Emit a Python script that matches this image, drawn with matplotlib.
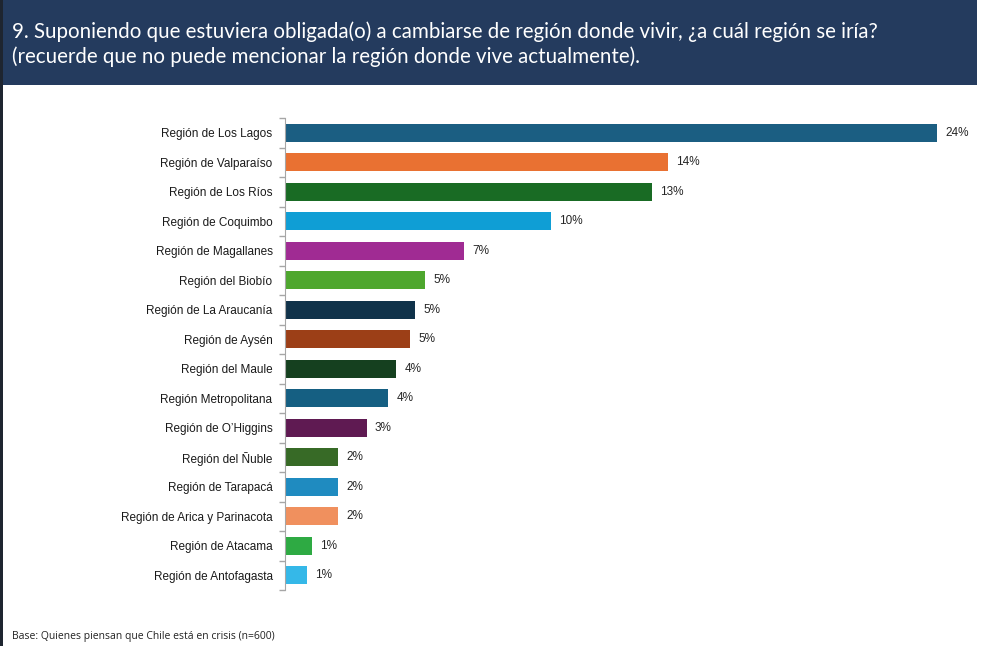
import matplotlib.pyplot as plt
from matplotlib.patches import Rectangle
import numpy as np

## Data
regiones = ['Región de Los Lagos', 'Región de Valparaíso', 'Región de Los Ríos',
            'Región de Coquimbo', 'Región de Magallanes', 'Región del Biobío',
            'Región de La Araucanía', 'Región de Aysén', 'Región del Maule',
            'Región Metropolitana', 'Región de O\u2019Higgins', 'Región del Ñuble',
            'Región de Tarapacá', 'Región de Arica y Parinacota', 'Región de Atacama',
            'Región de Antofagasta']
valores = [24.0, 14.1, 13.5, 9.8, 6.6, 5.15, 4.8, 4.6, 4.1, 3.8, 3.0, 1.95, 1.95, 1.95, 1.0, 0.8]
etiquetas = ['24%', '14%', '13%', '10%', '7%', '5%', '5%', '5%', '4%', '4%', '3%', '2%', '2%', '2%', '1%', '1%']
colores = ['#1B5E82', '#E97132', '#196B24', '#0F9ED5', '#A02B93', '#4EA72E',
           '#10324A', '#9C3F17', '#15401F', '#155F82', '#5F1A52', '#376A26',
           '#1F8BC0', '#F0905E', '#2EAA43', '#35B8E8']

titulo = ('9. Suponiendo que estuviera obligada(o) a cambiarse de región donde vivir, ¿a cuál región se iría?\n'
          '(recuerde que no puede mencionar la región donde vive actualmente).')
nota = 'Base: Quienes piensan que Chile está en crisis (n=600)'

W, H = 1002, 646
fig = plt.figure(figsize=(W / 100, H / 100), dpi=100)

## Header band and left edge strip
fig.patches.append(Rectangle((0, 1 - 85 / H), 977 / W, 85 / H, transform=fig.transFigure,
                             facecolor='#243B5E', edgecolor='none', zorder=0))
fig.patches.append(Rectangle((0, 0), 3 / W, 1, transform=fig.transFigure,
                             facecolor='#1E2530', edgecolor='none', zorder=1))
fig.text(12 / W, 1 - 21 / H, titulo, color='white', fontsize=14.8, family='Lato',
         va='top', ha='left', linespacing=1.32)
fig.text(12 / W, 1 - 636 / H, nota, color='#222222', fontsize=7.5, family='Open Sans',
         va='center', ha='left')

## Bar chart
ax = fig.add_axes([285 / W, 1 - 590 / H, (980 - 285) / W, 472 / H])
y = np.arange(len(regiones))
ax.barh(y, valores, height=0.6, color=colores)
ax.set_ylim(len(regiones) - 0.5, -0.5)
ax.set_xlim(0, 695 / 27.17)

for i in range(len(valores)):
    ax.text(valores[i] + 0.3, y[i], etiquetas[i], va='center', ha='left',
            fontsize=8.5, color='#262626', family='Liberation Sans')

ax.set_yticks(y)
ax.set_yticklabels(regiones, fontsize=8.5, color='#1A1A1A', family='Liberation Sans')
ax.set_yticks(np.arange(-0.5, len(regiones)), minor=True)
ax.tick_params(axis='y', which='major', length=0, pad=9)
ax.tick_params(axis='y', which='minor', length=4, color='#A6A6A6', width=1)
ax.set_xticks([])
for s in ['top', 'right', 'bottom']:
    ax.spines[s].set_visible(False)
ax.spines['left'].set_color('#A6A6A6')

fig.savefig('out.png', dpi=100)
